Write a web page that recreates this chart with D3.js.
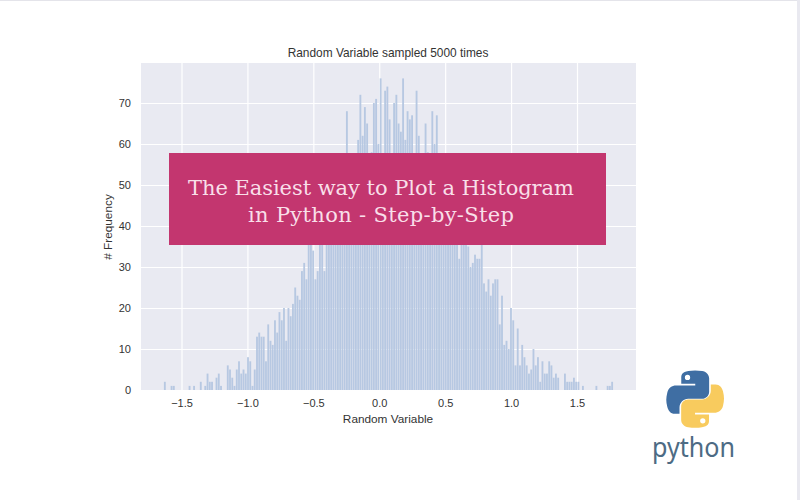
<!DOCTYPE html>
<html><head><meta charset="utf-8">
<script src="https://cdn.jsdelivr.net/npm/d3@7"></script>
<style>html,body{margin:0;padding:0;background:#fff}svg{display:block}</style>
</head><body><svg id="c" width="800" height="500"></svg>
<script>
const counts = [
2,0,0,1,1,0,0,0,0,0,0,1,0,1,0,0,2,0,1,4,
2,2,0,3,4,1,0,0,6,5,3,1,5,7,4,5,4,8,7,1,
5,13,14,13,13,7,16,12,11,17,14,19,17,20,12,20,18,21,25,23,
22,29,31,27,36,37,34,27,29,38,39,29,38,40,42,38,45,48,44,50,
47,68,46,50,52,55,61,72,62,69,65,55,58,70,71,60,76,54,73,74,
66,56,70,72,65,63,76,61,68,66,67,57,73,62,55,52,65,58,50,68,
60,67,48,45,52,40,44,47,38,42,36,32,38,37,36,35,30,31,33,32,
32,37,26,24,27,23,26,27,27,16,23,11,12,10,20,17,6,15,6,11,
8,6,4,5,10,6,8,2,7,4,4,7,6,3,4,3,0,0,4,2,
2,2,3,2,2,0,1,0,0,0,0,0,1,0,0,0,0,1,1,2];
const binStart = -1.635, binEnd = 1.775;
const xTicks = [-1.5,-1,-0.5,0,0.5,1,1.5];
const yTicks = [0,10,20,30,40,50,60,70];
const chartTitle = "Random Variable sampled 5000 times";
const xLabel = "Random Variable", yLabel = "# Frequency";
const bannerLines = ["The Easiest way to Plot a Histogram","in Python - Step-by-Step"];
const bannerWidths = [386,266];

const svg = d3.select("#c");
const sansF = "'Liberation Sans',Arial,sans-serif";
const ink = "#333333";
svg.append("rect").attr("width",800).attr("height",500).attr("fill","#fff");
svg.append("rect").attr("x",0).attr("y",0).attr("width",800).attr("height",1).attr("fill","#e4e4ea");
svg.append("rect").attr("x",797).attr("y",0).attr("width",3).attr("height",500).attr("fill","#e9e9f0");

const P = {l:141,r:636,t:63,b:390};
const x = d3.scaleLinear().domain([-1.5,1.5]).range([181.5,577]);
const y = d3.scaleLinear().domain([0,70]).range([P.b,103]);
svg.append("rect").attr("x",P.l).attr("y",P.t).attr("width",P.r-P.l).attr("height",P.b-P.t).attr("fill","#e9eaf2");

const gx = svg.append("g").attr("transform",`translate(0,${P.b})`)
  .call(d3.axisBottom(x).tickValues(xTicks).tickSize(-(P.b-P.t)).tickPadding(9)
    .tickFormat(d=>d3.format(".1f")(d).replace("-","\u2212")));
const gy = svg.append("g").attr("transform",`translate(${P.l},0)`)
  .call(d3.axisLeft(y).tickValues(yTicks).tickSize(-(P.r-P.l)).tickPadding(10));
[gx,gy].forEach(g=>{
  g.select(".domain").remove();
  g.selectAll("line").attr("stroke","#fff").attr("stroke-width",1.2);
  g.selectAll("text").attr("fill",ink).attr("font-family",sansF).attr("font-size",11);
});

const bw = (binEnd-binStart)/counts.length;
svg.append("g").selectAll("rect").data(counts).join("rect")
  .attr("x",(d,i)=>x(binStart+i*bw)+0.2)
  .attr("width",x(bw)-x(0)-0.4)
  .attr("y",d=>y(d)).attr("height",d=>y(0)-y(d))
  .attr("fill","#b4c6e0").attr("fill-opacity",0.95);

svg.append("text").attr("x",388).attr("y",57).attr("text-anchor","middle")
  .attr("font-family",sansF).attr("font-size",11.9).attr("fill",ink).text(chartTitle);
svg.append("text").attr("x",388).attr("y",423).attr("text-anchor","middle")
  .attr("font-family",sansF).attr("font-size",11.8).attr("fill",ink).text(xLabel);
svg.append("text").attr("transform","translate(112,227) rotate(-90)").attr("text-anchor","middle")
  .attr("font-family",sansF).attr("font-size",11.8).attr("fill",ink).text(yLabel);

svg.append("rect").attr("x",169).attr("y",153).attr("width",437).attr("height",92).attr("fill","#c3366f");
svg.append("g").selectAll("text").data(bannerLines).join("text")
  .attr("x",381).attr("y",(d,i)=>195+i*27).attr("text-anchor","middle")
  .attr("font-family","'DejaVu Serif',serif").attr("font-size",21).attr("fill","#f9dfe9")
  .attr("textLength",(d,i)=>bannerWidths[i]).attr("lengthAdjust","spacing")
  .text(d=>d);

const logo = svg.append("g").attr("transform","translate(666,370) scale(0.53)");
const snake = "M54.9,0.9C50.3,0.9 45.9,1.3 42.1,2C30.8,4 28.8,8.1 28.8,15.8V26H55.2V29.4H18.9C11.2,29.4 4.5,34 2.4,42.7C0,52.7 -0.1,58.9 2.4,69.3C4.3,77.1 8.7,82.6 16.4,82.6H25.5V70.7C25.5,62 33,54.4 41.9,54.4H68.2C75.5,54.4 81.4,48.4 81.4,41.1V15.8C81.4,8.7 75.3,3.3 68.2,2.1C63.7,1.3 59,0.9 54.9,0.9ZM40.6,9.1a5,5 0 1 1 0,10a5,5 0 1 1 0,-10Z";
logo.append("path").attr("d",snake).attr("fill","#3f6ea3").attr("fill-rule","evenodd");
logo.append("path").attr("d",snake).attr("fill","#f8cb5e").attr("fill-rule","evenodd").attr("transform","rotate(180 55 55)");
svg.append("text").attr("x",693.5).attr("y",457).attr("text-anchor","middle")
  .attr("font-family","'Noto Sans',sans-serif").attr("font-size",27).attr("fill","#4d6b84")
  .attr("textLength",83).attr("lengthAdjust","spacingAndGlyphs").text("python");
</script></body></html>
